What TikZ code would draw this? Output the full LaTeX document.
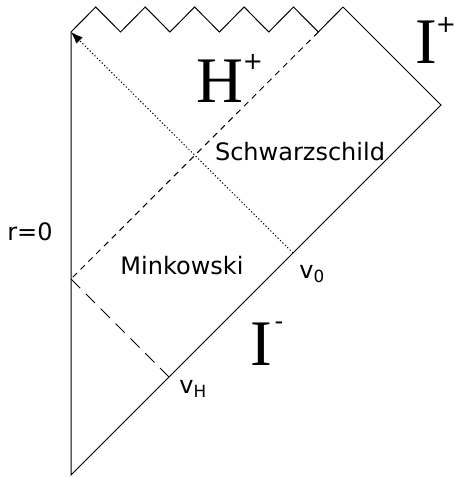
\documentclass[tikz,border=0pt]{standalone}
\usepackage{fontspec}
\setmainfont{DejaVu Sans}
\newfontfamily\bigserif{Liberation Serif}
\usetikzlibrary{arrows.meta}
\begin{document}
\begin{tikzpicture}[x=1pt,y=-1pt,
  edge/.style={line width=1pt,draw=black},
  hordash/.style={edge,dash pattern=on 6pt off 5pt},
  longdash/.style={edge,dash pattern=on 13pt off 8pt},
  dotline/.style={edge,dash pattern=on 1.2pt off 2.2pt},
  lbl/.style={inner sep=0pt,font=\fontsize{24}{28}\selectfont},
  big/.style={inner sep=0pt,anchor=base,font=\bigserif\fontsize{65}{70}\selectfont},
  sup/.style={inner sep=0pt,font=\fontsize{24}{28}\selectfont}]
\useasboundingbox (0,0) rectangle (455,477);
% corner coordinates
\coordinate (B) at (71,475);
\coordinate (TL) at (71,32);
\coordinate (R) at (441,105);
\coordinate (T) at (343,7);
\coordinate (V) at (318.3,32);
\coordinate (P) at (71,279);
\coordinate (vH) at (169,377);
\coordinate (v0) at (293,253);
% boundary
\draw[edge] (TL) -- (B) -- (R) -- (T);
\draw[edge,line join=miter] (TL) -- (95.7,7) -- (120.5,32) -- (145.2,7) -- (169.9,32)
  -- (194.6,7) -- (219.4,32) -- (244.1,7) -- (268.8,32) -- (293.5,7) -- (V) -- (T);
% horizon lines
\draw[hordash] (V) -- (P);
\draw[longdash] (P) -- (vH);
\draw[dotline,-{Latex[length=12pt,width=9pt]}] (v0) -- (TL);
% labels
\node[lbl] (r0) at (30,232) {r=0};
\node[lbl] (mink) at (182,266) {Minkowski};
\node[lbl] (schw) at (300,152) {Schwarzschild};
\node[lbl] (lv0) at (312,274) {v\textsubscript{0}};
\node[lbl] (lvH) at (193,389) {v\textsubscript{H}};
\node[big] (H) at (220,102) {H};
\node[sup] (Hp) at (253,62) {+};
\node[big] (Ip) at (426.5,63) {I};
\node[sup] (Ipp) at (446,25) {+};
\node[big] (Im) at (261.5,365) {I};
\node[sup] (Imm) at (279,326) {-};
\end{tikzpicture}
\end{document}
